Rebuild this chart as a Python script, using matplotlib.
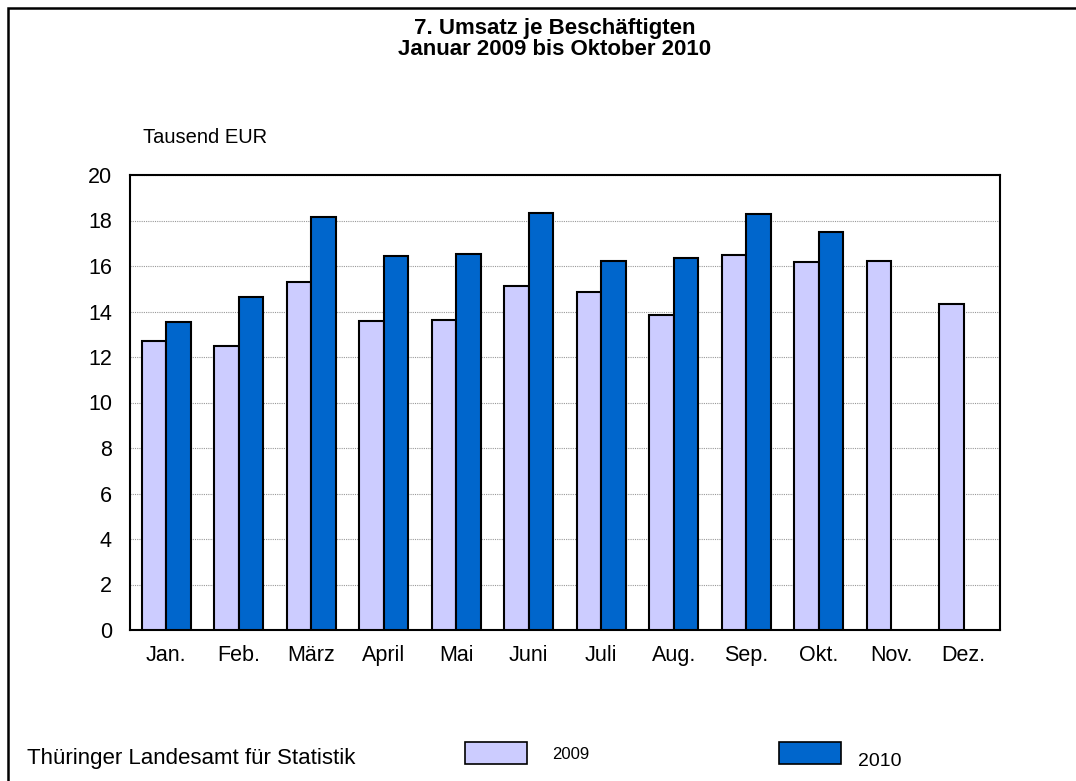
import matplotlib
matplotlib.use("Agg")
import matplotlib.pyplot as plt
import matplotlib.patches as patches
import numpy as np

plt.rcParams["font.family"] = ["Liberation Sans", "DejaVu Sans"]

months = ["Jan.", "Feb.", "März", "April", "Mai", "Juni", "Juli", "Aug.", "Sep.", "Okt.", "Nov.", "Dez."]
values_2009 = [12.72, 12.48, 15.28, 13.58, 13.61, 15.11, 14.84, 13.83, 16.50, 16.18, 16.21, 14.33]
values_2010 = [13.55, 14.64, 18.17, 16.44, 16.54, 18.32, 16.23, 16.37, 18.29, 17.49]
yticks = [0, 2, 4, 6, 8, 10, 12, 14, 16, 18, 20]

color_2009 = "#CCCCFF"
color_2010 = "#0066CC"

W, H = 1076, 781
fig = plt.figure(figsize=(W / 100, H / 100), dpi=100)

# outer frame (right and bottom edges run off the picture)
fig.patches.append(patches.Rectangle((8 / W, -0.05), 1.0, (H - 8) / H + 0.05,
                                     transform=fig.transFigure, fill=False,
                                     edgecolor="black", linewidth=1.8))

ax = fig.add_axes([130 / W, 1 - 630 / H, 870 / W, 455 / H])
x = np.arange(len(months))
bw = 0.338
ax.bar(x[:len(values_2009)] - bw / 2, values_2009, bw, color=color_2009,
       edgecolor="black", linewidth=1.5, zorder=3)
ax.bar(x[:len(values_2010)] + bw / 2, values_2010, bw, color=color_2010,
       edgecolor="black", linewidth=1.5, zorder=3)

ax.set_xlim(-0.5, len(months) - 0.5)
ax.set_ylim(0, 20)
ax.set_yticks(yticks)
ax.set_xticks(x)
ax.set_xticklabels(months)
ax.tick_params(axis="both", length=0, labelsize=15.5)
ax.tick_params(axis="y", pad=13)
ax.tick_params(axis="x", pad=11)
ax.yaxis.grid(True, color="#999999", linewidth=0.8, linestyle=(0, (1, 1)), zorder=0)
for s in ax.spines.values():
    s.set_linewidth(1.5)

fig.text(555 / W, 1 - 34 / H, "7. Umsatz je Beschäftigten", ha="center", va="baseline",
         fontsize=16, fontweight="bold")
fig.text(555 / W, 1 - 55 / H, "Januar 2009 bis Oktober 2010", ha="center", va="baseline",
         fontsize=16, fontweight="bold")
fig.text(143 / W, 1 - 143 / H, "Tausend EUR", ha="left", va="baseline", fontsize=14.5)

fig.text(27 / W, 1 - 764 / H, "Thüringer Landesamt für Statistik", ha="left", va="baseline", fontsize=16)
fig.patches.append(patches.Rectangle((465 / W, 1 - 764 / H), 62 / W, 22 / H, transform=fig.transFigure,
                                     facecolor=color_2009, edgecolor="black", linewidth=1.2))
fig.text(552 / W, 1 - 759 / H, "2009", ha="left", va="baseline", fontsize=12)
fig.patches.append(patches.Rectangle((779 / W, 1 - 764 / H), 62 / W, 22 / H, transform=fig.transFigure,
                                     facecolor=color_2010, edgecolor="black", linewidth=1.2))
fig.text(858 / W, 1 - 766 / H, "2010", ha="left", va="baseline", fontsize=14)

fig.savefig("out.png", dpi=100)
